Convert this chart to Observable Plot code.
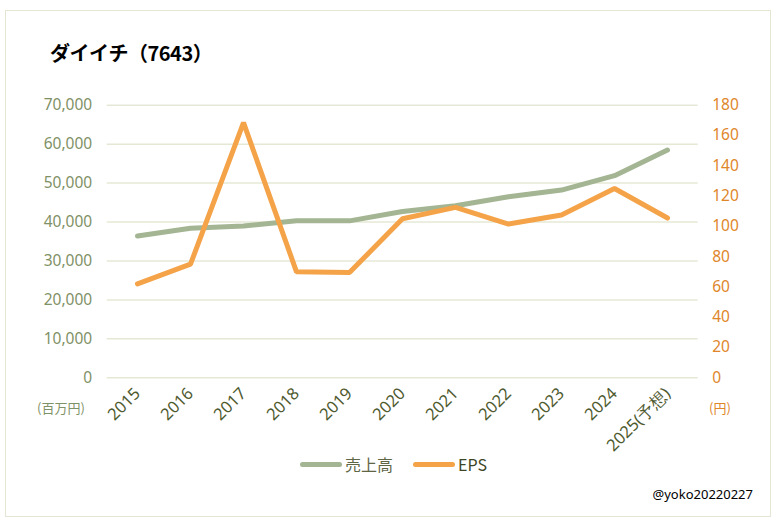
<!DOCTYPE html>
<html>
<head>
<meta charset="utf-8">
<script src="https://cdn.jsdelivr.net/npm/d3@7"></script>
<script src="https://cdn.jsdelivr.net/npm/@observablehq/plot@0.6"></script>
<style>
  body { margin: 0; background: #fff; }
  #wrap { position: relative; width: 780px; height: 523px; overflow: hidden; font-family: "Noto Sans", "Noto Sans CJK JP", sans-serif; }
  #frame { position: absolute; left: 5px; top: 10px; width: 766px; height: 507px; border: 1.5px solid #e3e6d3; box-sizing: border-box; }
  #title { position: absolute; left: 50px; top: 38px; font-family: "Noto Sans CJK JP", sans-serif; font-weight: bold; font-size: 20px; color: #000; letter-spacing: -0.5px; }
  #chart { position: absolute; left: 0; top: 0; }
  .unit { position: absolute; top: 398px; font-family: "Noto Sans CJK JP", sans-serif; font-size: 13px; }
  #legend { position: absolute; top: 452px; left: 300px; display: flex; align-items: center; font-family: "Noto Sans CJK JP", sans-serif; font-size: 16px; }
  .sw { display: inline-block; width: 42px; height: 5px; border-radius: 3px; margin-right: 3px; }
  #credit { position: absolute; right: 27px; top: 485px; font-family: "Noto Sans", sans-serif; font-size: 13px; color: #000; }
</style>
</head>
<body>
<div id="wrap">
  <div id="frame"></div>
  <div id="chart"></div>
  <div id="title">ダイイチ（7643）</div>
  <div class="unit" style="left:37px;color:#7f9166;">(百万円)</div>
  <div class="unit" style="left:709px;color:#e0862a;">(円)</div>
  <div id="legend">
    <span class="sw" style="background:#a3b592"></span><span style="margin-right:20px;color:#5f6646">売上高</span>
    <span class="sw" style="background:#f4a349"></span><span style="color:#3d4525">EPS</span>
  </div>
  <div id="credit">@yoko20220227</div>
</div>
<script>
const years = ["2015","2016","2017","2018","2019","2020","2021","2022","2023","2024","2025(予想)"];
const sales = [36400, 38400, 39000, 40300, 40300, 42700, 44200, 46500, 48200, 51900, 58500];
const eps = [62, 75, 168.5, 70, 69.5, 105, 112.5, 101.5, 107.5, 125, 105.5];
const leftTicks = [0, 10000, 20000, 30000, 40000, 50000, 60000, 70000];
const rightTicks = [0, 20, 40, 60, 80, 100, 120, 140, 160, 180];

const LMAX = 70000, RMAX = 180;
const toLeft = v => v * LMAX / RMAX;

const salesData = years.map((y, i) => ({year: y, v: sales[i]}));
const epsData = years.map((y, i) => ({year: y, v: toLeft(eps[i])}));

const chart = Plot.plot({
  width: 780,
  height: 523,
  marginTop: 104.7,
  marginBottom: 145.7,
  marginLeft: 106.7,
  marginRight: 82.3,
  style: {fontFamily: "'Noto Sans', sans-serif", fontSize: "15.5px", background: "transparent", overflow: "visible"},
  x: {type: "point", domain: years, padding: 0.5},
  y: {domain: [0, LMAX]},
  marks: [
    Plot.ruleY(leftTicks, {stroke: "#e6e8d6", strokeWidth: 1.5}),
    Plot.axisY(leftTicks, {anchor: "left", tickSize: 0, tickPadding: 15, tickFormat: d3.format(","), fill: "#7f9166", label: null}),
    Plot.axisY(rightTicks.map(toLeft), {anchor: "right", tickSize: 0, tickPadding: 14, tickFormat: d => String(Math.round(d * RMAX / LMAX)), fill: "#e0862a", label: null}),
    Plot.axisX({tickSize: 0, tickRotate: -45, tickPadding: 13, fill: "#4f5a2f", label: null, fontSize: 16.5}),
    Plot.line(salesData, {x: "year", y: "v", stroke: "#a3b592", strokeWidth: 5, strokeLinecap: "round", strokeLinejoin: "round"}),
    Plot.line(epsData, {x: "year", y: "v", stroke: "#f4a349", strokeWidth: 5, strokeLinecap: "round", strokeLinejoin: "miter"})
  ]
});
document.getElementById("chart").appendChild(chart);
</script>
</body>
</html>
